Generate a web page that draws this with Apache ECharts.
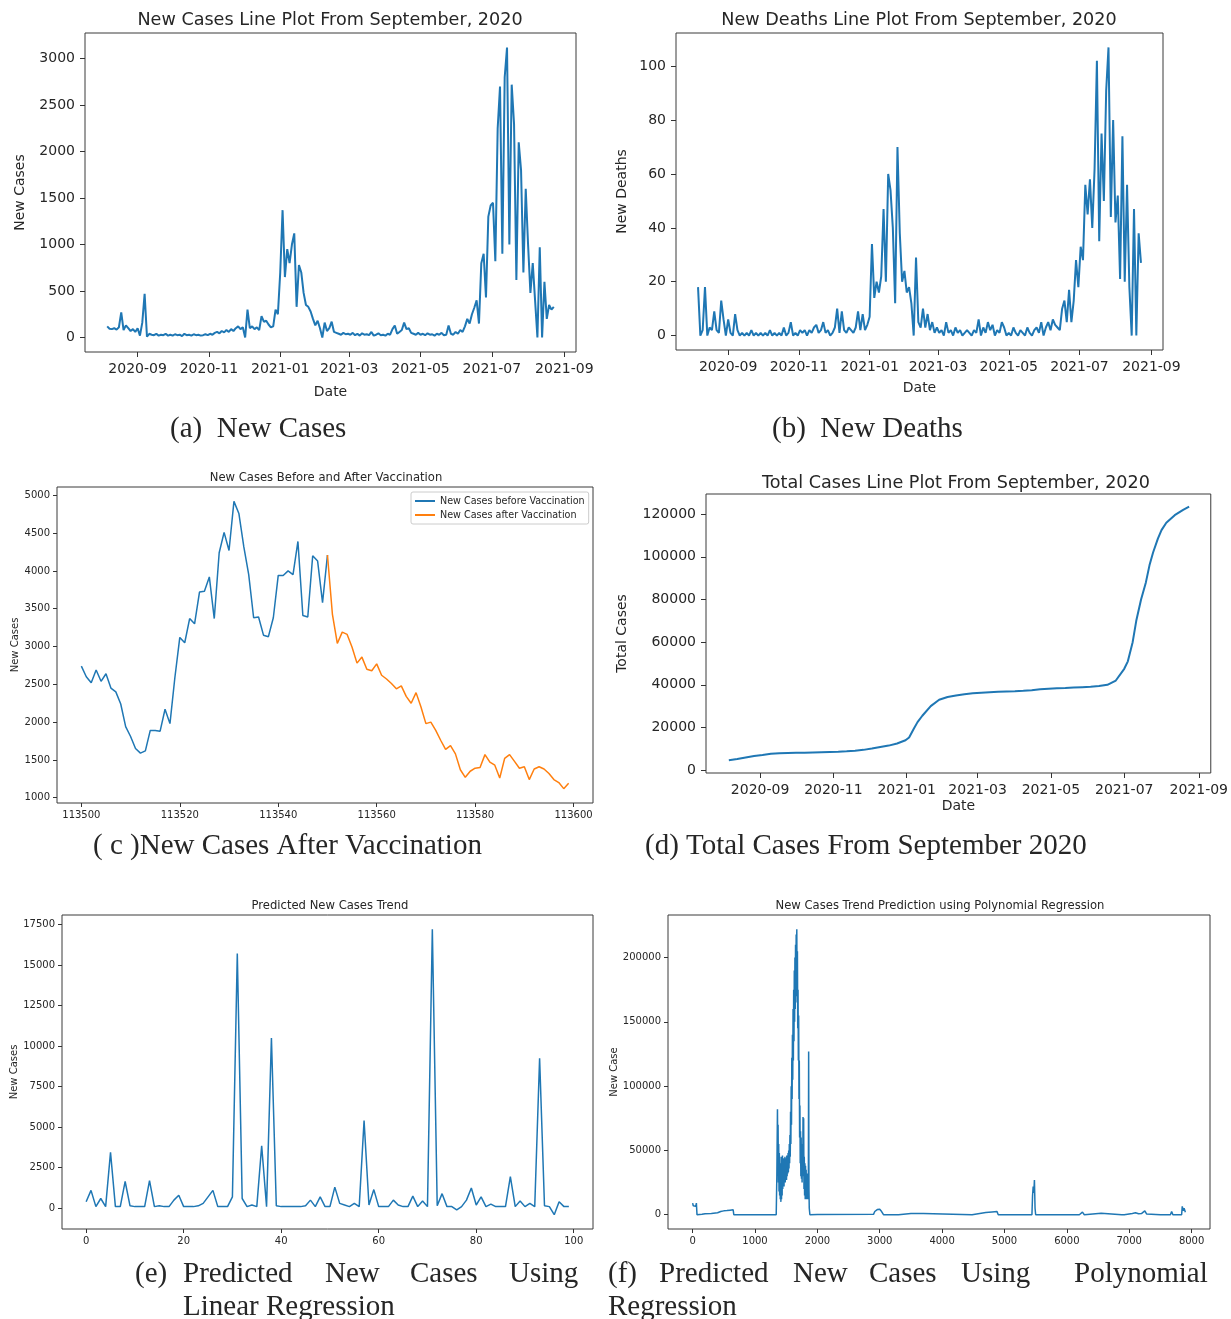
<!DOCTYPE html>
<html>
<head>
<meta charset="utf-8">
<script src="https://cdn.jsdelivr.net/npm/echarts@6/dist/echarts.min.js"></script>
<style>
html,body{margin:0;padding:0;background:#fff;}
#chart{width:1231px;height:1319px;}
</style>
</head>
<body>
<div id="chart"></div>
<script>
// ---------- DATA ----------
// (a) New cases, every 2 days from 2020-08-06
const aStartDate = '2020-08-06';
const aNewCases = [
120,95,90,100,85,110,270,80,130,100,70,90,60,
100,20,160,470,10,40,30,25,40,20,30,25,40,20,30,
20,35,25,30,15,40,25,30,20,35,25,30,20,25,35,25,
40,30,50,60,45,70,55,80,60,90,70,100,120,90,110,
0,300,100,120,90,110,80,230,170,180,140,110,120,300,250,
700,1370,650,950,800,1000,1120,330,780,700,480,350,330,280,200,130,180,100,0,160,70,100,170,60,50,40,30,50,35,40,
30,50,25,40,20,45,30,35,25,60,20,30,45,25,30,
20,40,30,90,130,40,60,80,160,90,100,50,40,30,50,
30,40,25,45,30,35,20,40,30,50,25,30,130,40,30,60,
40,80,60,120,200,150,250,320,400,150,800,900,430,1300,1420,
1450,820,2250,2700,900,2800,3120,1000,2720,2300,620,2100,1800,700,1600,
1000,480,800,400,0,970,0,600,200,350,300,330
];
// (b) New deaths, every 2 days from 2020-08-06
const bNewDeaths = [
18,0,2,18,0,3,2,9,2,1,13,6,0,
6,1,0,8,2,0,1,0,1,0,2,0,1,0,1,
0,1,0,2,0,1,0,1,0,3,0,1,5,0,1,0,
2,1,2,0,2,1,3,4,1,2,5,1,2,0,1,
3,10,1,9,2,1,3,2,1,3,9,2,8,2,4,
7,34,14,20,16,22,47,20,60,54,40,12,70,38,20,24,16,18,12,0,29,5,3,10,3,8,2,5,1,3,
1,2,0,5,1,2,0,3,1,2,0,1,2,1,0,
2,1,6,0,3,1,5,2,4,0,2,1,5,3,0,
1,0,3,1,0,2,1,0,3,1,0,2,3,1,5,0,
3,5,2,6,4,3,2,10,13,5,17,5,13,28,18,
33,28,56,45,58,40,62,102,35,75,50,91,107,44,80,
42,52,21,74,20,56,18,0,47,0,38,27
];
// (c) before / after vaccination
const cStart = 113500;
const cBefore = [2740,2600,2520,2690,2540,2640,2450,2400,2240,1940,1810,1650,1590,1620,1890,1890,1880,2170,1980,2590,
3120,3050,3370,3300,3720,3730,3920,3370,4240,4510,4270,4920,4760,4320,3950,3380,3390,3150,3130,3380,
3940,3940,4000,3950,4390,3410,3390,4200,4130,3580,4210];
const cAfter = [4210,3430,3040,3190,3160,2990,2780,2860,2700,2680,2770,2620,2570,2510,2440,2480,2340,2250,2390,2200,
1980,2000,1890,1760,1640,1690,1580,1370,1270,1350,1390,1400,1570,1470,1430,1260,1520,1570,1480,1390,
1410,1240,1380,1410,1380,1320,1240,1200,1120,1190];
// (d) total cases
const dDates = ['2020-08-06','2020-08-13','2020-08-20','2020-08-27','2020-09-03','2020-09-10','2020-09-17','2020-09-24',
'2020-10-01','2020-10-08','2020-10-15','2020-10-22','2020-10-29','2020-11-05','2020-11-12','2020-11-19','2020-11-26',
'2020-12-03','2020-12-10','2020-12-17','2020-12-24','2020-12-31','2021-01-03','2021-01-07','2021-01-10','2021-01-14',
'2021-01-21','2021-01-28','2021-02-04','2021-02-11','2021-02-18','2021-02-25','2021-03-04','2021-03-11','2021-03-18',
'2021-03-25','2021-04-01','2021-04-08','2021-04-15','2021-04-22','2021-04-29','2021-05-06','2021-05-13','2021-05-20',
'2021-05-27','2021-06-03','2021-06-10','2021-06-17','2021-06-24','2021-07-01','2021-07-04','2021-07-08','2021-07-11',
'2021-07-15','2021-07-19','2021-07-22','2021-07-25','2021-07-29','2021-08-01','2021-08-05','2021-08-12','2021-08-19','2021-08-24'];
const dTotals = [4600,5200,5900,6600,7100,7700,7900,8000,
8100,8200,8300,8400,8500,8600,8800,9100,9500,
10100,10800,11500,12500,14000,15300,19500,22500,25500,
30000,33000,34300,35000,35600,36000,36300,36500,36700,
36900,37000,37200,37500,37900,38200,38400,38500,38700,
38900,39100,39400,40000,42000,47500,51000,60000,70000,
80000,88000,96000,102000,108500,112500,116000,119500,122000,123500];
// (e) predicted new cases (linear regression)
const ePredicted = [400,1100,100,600,100,3450,100,100,1650,150,
100,100,100,1700,100,150,100,100,500,800,
100,100,100,150,300,700,1100,100,100,100,
700,15700,600,100,200,100,3850,100,10500,150,
100,100,100,100,100,150,500,100,700,100,
100,1300,300,200,100,300,100,5400,200,1150,
100,100,100,500,200,100,100,750,100,450,
100,17200,150,900,100,100,-100,100,500,1250,
200,700,100,250,100,100,100,1950,100,450,
100,300,100,9250,150,100,-400,400,100,100];
// (f) polynomial regression prediction
const fX = [0,10,20,30,40,50,60,65,70,150,200,300,400,450,500,550,600,650,660,1000,1240,1250,1260,1340,
1350,1360,1365,1370,1375,1380,1385,1390,1395,1400,1405,1410,1415,1420,1425,1430,1435,1440,1445,1450,1455,1460,1465,1470,
1475,1480,1485,1490,1495,1500,1505,1510,1515,1520,1525,1530,1535,1540,1545,1550,1555,1560,1565,1570,1575,1580,1585,1590,
1595,1600,1605,1610,1615,1620,1625,1630,1635,1640,1645,1650,1655,1660,1665,1670,1675,1680,1685,1690,1695,1700,1705,1710,
1715,1720,1725,1730,1735,1740,1745,1750,1755,1760,1765,1770,1775,1780,1785,1790,1795,1800,1805,1810,1815,1820,1825,1830,
1835,1840,1845,1850,1855,1860,1865,1870,1880,2000,2900,2920,2960,2980,3000,3030,3060,3300,3320,3500,3700,3720,
4480,4500,4700,4800,4880,4900,5440,5450,5460,5470,5480,5490,5500,6200,6250,6280,6550,6580,6880,6900,6920,
7050,7100,7150,7200,7250,7280,7500,7520,7540,7660,7680,7700,7840,7850,7870,7880,7900];
const fY = [9000,7000,8500,6000,8000,6500,9000,7500,0,300,800,1000,1500,2500,3000,3200,3500,3800,0,0,0,1500,0,0,
30000,82000,45000,70000,25000,55000,18000,48000,15000,40000,12000,35000,10000,45000,12000,38000,15000,46000,20000,42000,24000,44000,22000,40000,
26000,45000,25000,42000,28000,44000,27000,46000,30000,43000,32000,48000,33000,50000,36000,55000,40000,62000,45000,80000,55000,100000,70000,122000,
90000,140000,105000,160000,120000,175000,135000,190000,150000,200000,160000,210000,170000,218000,175000,222000,165000,205000,145000,175000,120000,155000,90000,120000,
60000,85000,40000,65000,30000,60000,28000,55000,25000,50000,30000,76000,35000,75000,20000,45000,15000,40000,12000,38000,15000,35000,12000,30000,
14000,32000,12000,28000,15000,127000,20000,5000,0,200,300,2500,4000,3000,4200,2500,0,0,1200,1000,1000,0,
0,1200,1800,2200,2500,0,0,15000,22000,17000,27000,5000,0,0,2000,0,1200,0,0,1500,0,
1000,1500,800,1000,3000,500,0,800,0,0,2500,0,0,6500,3000,5000,2000];
// tick labels
const monthTicks = ['2020-09','2020-11','2021-01','2021-03','2021-05','2021-07','2021-09'];
const aYTicks = [0,500,1000,1500,2000,2500,3000];
const bYTicks = [0,20,40,60,80,100];
const cXTicks = [113500,113520,113540,113560,113580,113600];
const cYTicks = [1000,1500,2000,2500,3000,3500,4000,4500,5000];
const dYTicks = [0,20000,40000,60000,80000,100000,120000];
const eXTicks = [0,20,40,60,80,100];
const eYTicks = [0,2500,5000,7500,10000,12500,15000,17500];
const fXTicks = [0,1000,2000,3000,4000,5000,6000,7000,8000];
const fYTicks = [0,50000,100000,150000,200000];

// ---------- BUILD ----------
const DAY = 86400000;
const t0 = Date.parse(aStartDate);
const aData = aNewCases.map((v,i)=>[t0 + i*2*DAY, v]);
const bData = bNewDeaths.map((v,i)=>[t0 + i*2*DAY, v]);
const cData1 = cBefore.map((v,i)=>[cStart+i, v]);
const cData2 = cAfter.map((v,i)=>[cStart+cBefore.length-1+i, v]);
const dData = dTotals.map((v,i)=>[Date.parse(dDates[i]), v]);
const eData = ePredicted.map((v,i)=>[i, v]);
const fData = fY.map((v,i)=>[fX[i], v]);
const monthVals = monthTicks.map(s=>Date.parse(s+'-01'));
const tMin = Date.parse('2020-07-18'), tMax = Date.parse('2021-09-11');

const FONT = 'DejaVu Sans';
const TXT = '#262626';
const BLUE = '#1f77b4', ORANGE = '#ff7f0e';
function pad(n){return (n<10?'0':'')+n;}
function fmtMonth(v){const d=new Date(v);return d.getUTCFullYear()+'-'+pad(d.getUTCMonth()+1);}
function fmtPlain(v){return String(v);}

function xAx(gi, min, max, ticks, fs, name, gap, fmt){
  const big = fs>12;
  return {gridIndex:gi, type:'value', min:min, max:max, scale:true,
    axisLine:{show:false,onZero:false}, splitLine:{show:false},
    axisTick:{show:true,length:big?5:4,customValues:ticks,lineStyle:{color:'#333',width:1}},
    axisLabel:{customValues:ticks,fontSize:fs,color:TXT,fontFamily:FONT,margin:big?10:7,formatter:fmt||fmtPlain,hideOverlap:false},
    name:name||'', nameLocation:'middle', nameGap:gap||0,
    nameTextStyle:{fontSize:fs,color:TXT,fontFamily:FONT}};
}
function yAx(gi, min, max, ticks, fs, name, gap){
  const big = fs>12;
  return {gridIndex:gi, type:'value', min:min, max:max, scale:true,
    axisLine:{show:false,onZero:false}, splitLine:{show:false},
    axisTick:{show:true,length:big?5:4,customValues:ticks,lineStyle:{color:'#333',width:1}},
    axisLabel:{customValues:ticks,fontSize:fs,color:TXT,fontFamily:FONT,margin:big?10:7,formatter:fmtPlain},
    name:name, nameLocation:'middle', nameGap:gap, nameRotate:90,
    nameTextStyle:{fontSize:fs,color:TXT,fontFamily:FONT}};
}
function line(name, xi, data, color, w){
  return {name:name, type:'line', xAxisIndex:xi, yAxisIndex:xi, data:data, showSymbol:false, symbol:'none',
    lineStyle:{color:color,width:w}, itemStyle:{color:color}, animation:false, z:3};
}
const gridStyle = {show:true, borderColor:'#3a3a3a', borderWidth:1, backgroundColor:'#fff', containLabel:false};
function txt(x,y,text,font,align){
  return {type:'text', x:x, y:y, silent:true,
    style:{text:text, font:font, fill:TXT, align:align||'left', verticalAlign:'middle',
      textAlign:align||'left', textVerticalAlign:'middle'}};
}
const titleFont17 = '17.6px "DejaVu Sans"';
const titleFont11 = '11.6px "DejaVu Sans"';
const capFont = '29px "Liberation Serif"';

const option = {
  backgroundColor:'#fff',
  animation:false,
  grid:[
    Object.assign({left:85, top:33, width:491, height:319}, gridStyle),
    Object.assign({left:676, top:33, width:487, height:317}, gridStyle),
    Object.assign({left:57, top:487, width:536, height:316}, gridStyle),
    Object.assign({left:706, top:494, width:506, height:279}, gridStyle),
    Object.assign({left:62, top:915, width:531, height:314}, gridStyle),
    Object.assign({left:668, top:915, width:542, height:314}, gridStyle)
  ],
  xAxis:[
    xAx(0,tMin,tMax,monthVals,14,'Date',33,fmtMonth),
    xAx(1,tMin,tMax,monthVals,14,'Date',31,fmtMonth),
    xAx(2,113495.05,113603.95,cXTicks,10,'',0),
    xAx(3,tMin,tMax,monthVals,14,'Date',26,fmtMonth),
    xAx(4,-4.95,103.95,eXTicks,10,'',0),
    xAx(5,-395,8295,fXTicks,10,'',0)
  ],
  yAxis:[
    yAx(0,-156,3276,aYTicks,14,'New Cases',58),
    yAx(1,-5.35,112.35,bYTicks,14,'New Deaths',47),
    yAx(2,930,5110,cYTicks,10,'New Cases',37),
    yAx(3,-1345,129445,dYTicks,14,'Total Cases',77),
    yAx(4,-1280,18080,eYTicks,10,'New Cases',42),
    yAx(5,-11100,233100,fYTicks,10,'New Case',46)
  ],
  legend:{
    data:['New Cases before Vaccination','New Cases after Vaccination'],
    left:411, top:492, orient:'vertical', icon:'rect', itemWidth:20, itemHeight:2, itemGap:4,
    textStyle:{fontSize:9.6,color:TXT,fontFamily:FONT},
    backgroundColor:'#fff', borderColor:'#ccc', borderWidth:1, borderRadius:2, padding:[4,4,4,4]
  },
  series:[
    line('New Cases',0,aData,BLUE,2),
    line('New Deaths',1,bData,BLUE,2),
    line('New Cases before Vaccination',2,cData1,BLUE,1.5),
    line('New Cases after Vaccination',2,cData2,ORANGE,1.5),
    line('Total Cases',3,dData,BLUE,2),
    line('Predicted New Cases',4,eData,BLUE,1.5),
    line('Polynomial Prediction',5,fData,BLUE,1.5)
  ],
  graphic:[
    txt(330,20,'New Cases Line Plot From September, 2020',titleFont17,'center'),
    txt(919,20,'New Deaths Line Plot From September, 2020',titleFont17,'center'),
    txt(326,478,'New Cases Before and After Vaccination',titleFont11,'center'),
    txt(956,483,'Total Cases Line Plot From September, 2020',titleFont17,'center'),
    txt(330,906,'Predicted New Cases Trend',titleFont11,'center'),
    txt(940,906,'New Cases Trend Prediction using Polynomial Regression',titleFont11,'center'),
    txt(170,429,'(a)  New Cases',capFont),
    txt(772,429,'(b)  New Deaths',capFont),
    txt(93,846,'( c )New Cases After Vaccination',capFont),
    txt(645,846,'(d) Total Cases From September 2020',capFont),
    txt(135,1274,'(e)',capFont), txt(183,1274,'Predicted',capFont), txt(325,1274,'New',capFont),
    txt(410,1274,'Cases',capFont), txt(509,1274,'Using',capFont),
    txt(183,1307,'Linear Regression',capFont),
    txt(608,1274,'(f)',capFont), txt(659,1274,'Predicted',capFont), txt(793,1274,'New',capFont),
    txt(869,1274,'Cases',capFont), txt(961,1274,'Using',capFont), txt(1074,1274,'Polynomial',capFont),
    txt(608,1307,'Regression',capFont)
  ]
};
const chart = echarts.init(document.getElementById('chart'), null, {renderer:'canvas'});
chart.setOption(option);
</script>
</body>
</html>
